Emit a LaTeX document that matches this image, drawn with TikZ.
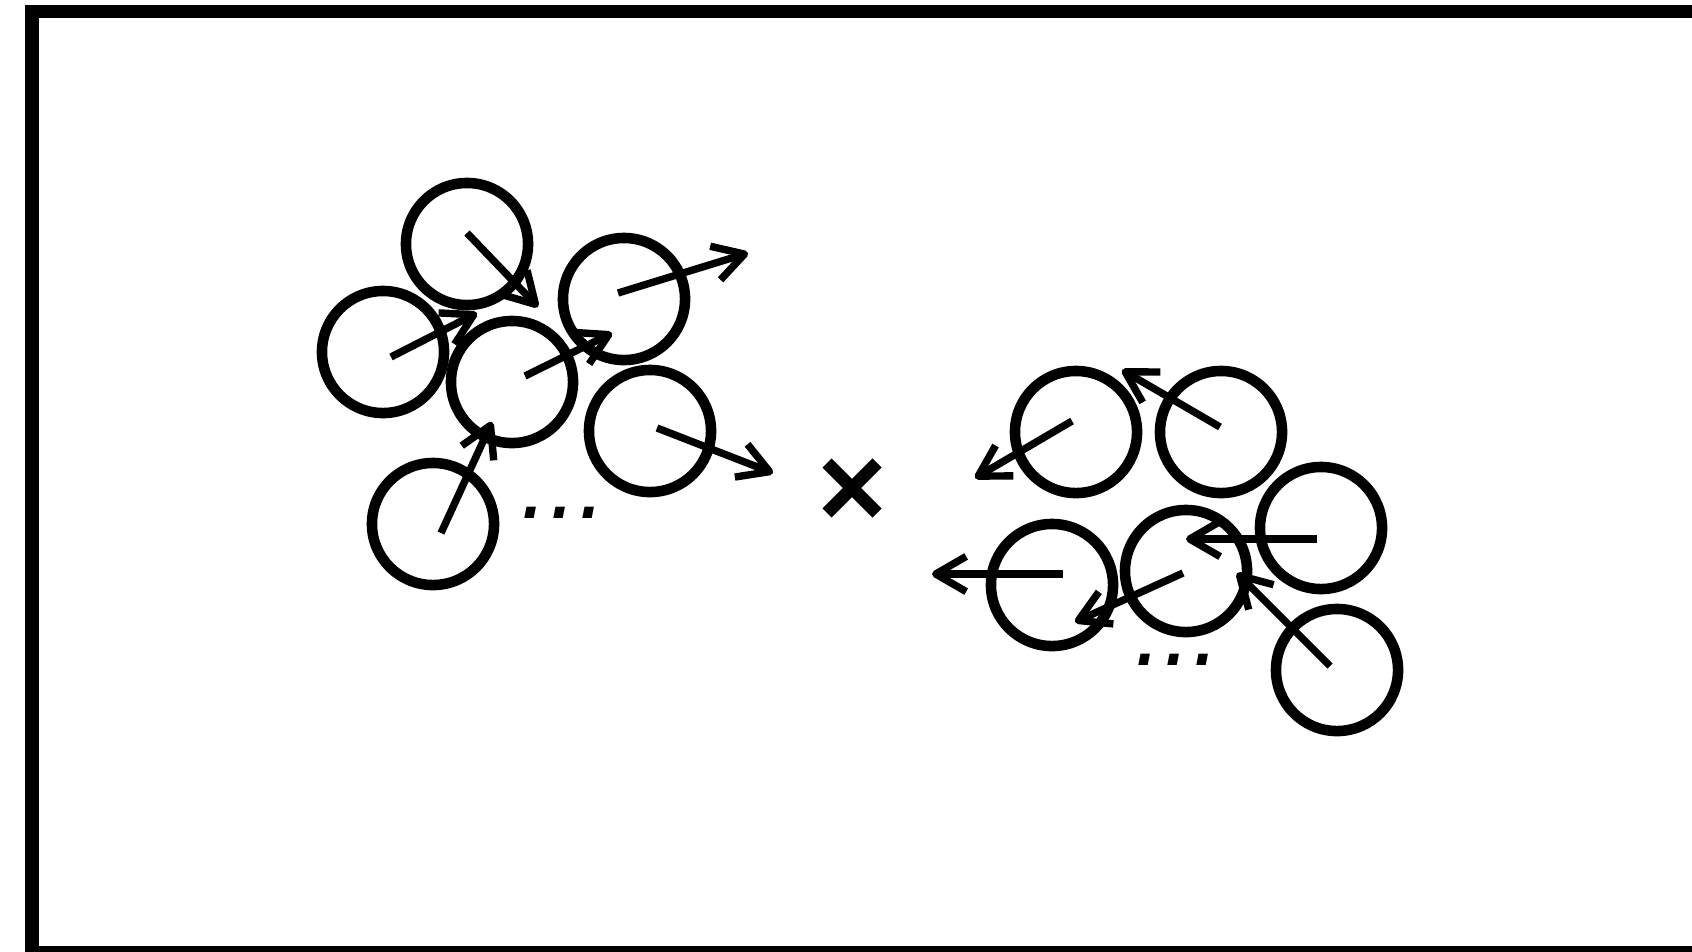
\documentclass[tikz,border=0pt]{standalone}
\usepackage{fontspec}
\usetikzlibrary{arrows.meta}
\newfontfamily\dotfont{DejaVu Sans}
\tikzset{
  ball/.style={circle, draw=black, line width=3pt, inner sep=0pt, minimum size=1.22cm},
  vel/.style={line width=2.1pt, -{Straight Barb[angle=60:10pt, line join=round, line cap=butt]}},
  dots/.style={inner sep=0pt, font=\dotfont\itshape\fontsize{26}{26}\selectfont}
}

\begin{document}
\begin{tikzpicture}[x=0.01cm, y=-0.01cm]
        \useasboundingbox (0,0) rectangle (1692,951);
        \draw[line width=3.85pt] (32,11.5) rectangle (1720,952.5);
        % left cluster
        \node[ball] (pa) at (467,244) {};
        \node[ball] (pb) at (383,352) {};
        \node[ball] (pc) at (512,382) {};
        \node[ball] (pd) at (624,299) {};
        \node[ball] (pe) at (650,431) {};
        \node[ball] (pf) at (433,524) {};
        \coordinate (ta) at (467,233);  \coordinate (ha) at (538,307);
        \coordinate (tb) at (391,357);  \coordinate (hb) at (477,313);
        \coordinate (tc) at (525,376);  \coordinate (hc) at (612,333);
        \coordinate (td) at (618,293);  \coordinate (hd) at (748,253);
        \coordinate (te) at (657,428);  \coordinate (he) at (773,473);
        \coordinate (tf) at (441,533);  \coordinate (hf) at (492,422);
        \draw[vel] (ta) -- (ha);
        \draw[vel] (tb) -- (hb);
        \draw[vel] (tc) -- (hc);
        \draw[vel] (td) -- (hd);
        \draw[vel] (te) -- (he);
        \draw[vel] (tf) -- (hf);
        \node[dots] (dl) at (563,513) {...};
        % collision mark
        \draw[line width=3.7pt] (827,463) -- (877,513) (827,513) -- (877,463);
        % right cluster
        \node[ball] (pg) at (1076,432) {};
        \node[ball] (ph) at (1221,432) {};
        \node[ball] (pi) at (1321,528) {};
        \node[ball] (pj) at (1186,571) {};
        \node[ball] (pk) at (1052,585) {};
        \node[ball] (pl) at (1337,670) {};
        \coordinate (tg) at (1072,421); \coordinate (hg) at (975,478);
        \coordinate (th) at (1220,427); \coordinate (hh) at (1122,370);
        \coordinate (ti) at (1317,539); \coordinate (hi) at (1186,539);
        \coordinate (tj) at (1183,573); \coordinate (hj) at (1075,622);
        \coordinate (tk) at (1063,574); \coordinate (hk) at (932,574);
        \coordinate (tl) at (1330,666); \coordinate (hl) at (1237,573);
        \draw[vel] (tg) -- (hg);
        \draw[vel] (th) -- (hh);
        \draw[vel] (ti) -- (hi);
        \draw[vel] (tj) -- (hj);
        \draw[vel] (tk) -- (hk);
        \draw[vel] (tl) -- (hl);
        \node[dots] (dr) at (1177,660) {...};
\end{tikzpicture}
\end{document}
